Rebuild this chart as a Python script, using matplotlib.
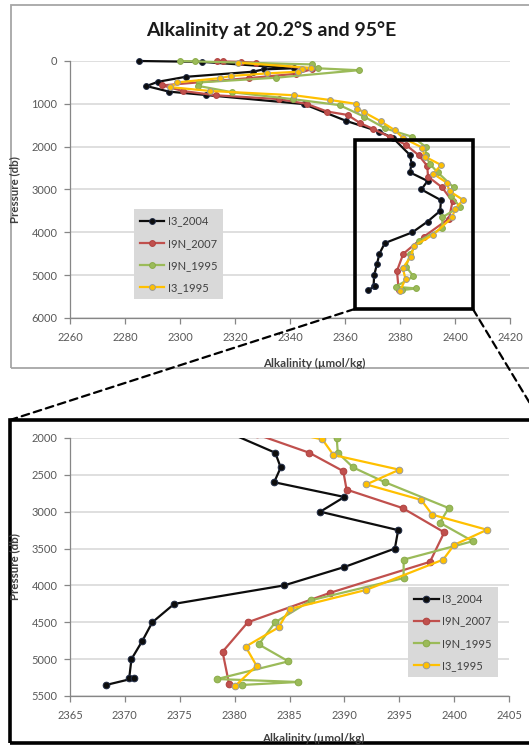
"""
Alkalinity profiles at 20.2°S, 95°E with a zoomed view of the deep layer.
"""

import matplotlib
matplotlib.use("Agg")
import matplotlib.pyplot as plt
from matplotlib.patches import Rectangle, ConnectionPatch

plt.rcParams["font.family"] = ["Lato", "DejaVu Sans"]

# --- Profiles: pressure (db) and alkalinity (umol/kg) ---
P_I3_2004 = [0, 20, 170, 195, 250, 370, 485, 585, 715, 795, 1005, 1400, 1650, 1800,
             2200, 2400, 2600, 2800, 3000, 3250, 3500, 3750, 4000, 4250, 4500, 4750,
             5000, 5250, 5260, 5350]
ALK_I3_2004 = [2285.0, 2308.0, 2341.5, 2330.5, 2326.5, 2302.0, 2292.0, 2287.8, 2296.0,
               2309.5, 2345.0, 2360.5, 2372.5, 2377.5, 2383.7, 2384.2, 2383.6, 2390.0,
               2387.8, 2394.9, 2394.6, 2390.0, 2384.5, 2374.5, 2372.5, 2371.6, 2370.6,
               2370.4, 2370.8, 2368.3]

P_I9N_2007 = [0, 10, 20, 40, 190, 300, 400, 570, 700, 800, 890, 1000, 1180, 1260, 1450,
              1580, 1780, 1950, 2200, 2450, 2700, 2950, 3280, 3680, 4100, 4500, 4900, 5340]
ALK_I9N_2007 = [2313.5, 2315.5, 2322.0, 2327.5, 2348.0, 2342.0, 2325.0, 2293.5, 2301.0,
                2313.0, 2336.0, 2346.0, 2353.5, 2361.0, 2365.5, 2370.0, 2376.5, 2382.0,
                2386.8, 2389.9, 2390.2, 2395.3, 2399.1, 2397.8, 2388.7, 2381.2, 2378.9,
                2379.5]

P_I9N_1995 = [0, 10, 80, 170, 215, 390, 500, 580, 730, 890, 1030, 1300, 1570, 1770,
              2000, 2200, 2400, 2600, 2950, 3150, 3400, 3650, 3900, 4200, 4500, 4800,
              5030, 5270, 5310, 5350]
ALK_I9N_1995 = [2300.0, 2305.5, 2348.0, 2350.0, 2365.0, 2335.0, 2307.0, 2306.5, 2319.0,
                2341.0, 2358.0, 2367.0, 2374.5, 2384.5, 2389.3, 2389.4, 2390.8, 2393.7,
                2399.5, 2398.7, 2401.7, 2395.4, 2395.4, 2387.0, 2383.7, 2382.2, 2384.9,
                2378.4, 2385.8, 2380.7]

P_I3_1995 = [40, 160, 190, 250, 290, 350, 400, 500, 610, 700, 800, 910, 1000, 1110, 1200,
             1410, 1610, 1790, 2020, 2230, 2430, 2630, 2840, 3040, 3245, 3450, 3650, 4060,
             4320, 4570, 4830, 5090, 5370]
ALK_I3_1995 = [2321.0, 2347.5, 2344.5, 2343.0, 2331.5, 2318.5, 2314.5, 2299.0, 2296.5,
               2311.0, 2341.5, 2354.5, 2364.0, 2364.5, 2367.0, 2373.0, 2378.0, 2381.0,
               2388.0, 2389.0, 2395.0, 2392.0, 2397.0, 2398.0, 2403.0, 2400.0, 2399.0,
               2392.0, 2385.0, 2384.0, 2381.0, 2382.0, 2380.0]

SERIES_NAMES = ["I3_2004", "I9N_2007", "I9N_1995", "I3_1995"]

# --- Axis ranges and ticks ---
FULL_XTICKS = list(range(2260, 2421, 20))
FULL_YTICKS = list(range(0, 6001, 1000))
ZOOM_XTICKS = list(range(2365, 2406, 5))
ZOOM_YTICKS = list(range(2000, 5501, 500))
ZOOM_BOX = (2363.5, 2406.5, 1845, 5790)   # x0, x1, y0, y1 in data units

TITLE = "Alkalinity at 20.2°S and 95°E"
XLABEL = "Alkalinity (µmol/kg)"
YLABEL = "Pressure (db)"

STYLES = [
    dict(color="#0d0d0d", mfc="#0d0d0d", mec="#1f2a44"),
    dict(color="#c0504d", mfc="#c0504d", mec="#b0413e"),
    dict(color="#9bbb59", mfc="#9bbb59", mec="#8aab48"),
    dict(color="#ffc000", mfc="#ffc000", mec="#9a9a9a"),
]

AXIS_GRAY = "#868686"
TEXT_GRAY = "#595959"


def draw_panel(ax, xticks, yticks, ms, clip, legend_anchor, xlabel_y):
    data = [(ALK_I3_2004, P_I3_2004), (ALK_I9N_2007, P_I9N_2007),
            (ALK_I9N_1995, P_I9N_1995), (ALK_I3_1995, P_I3_1995)]
    for (x, y), name, st in zip(data, SERIES_NAMES, STYLES):
        ax.plot(x, y, "-o", lw=1.6, ms=ms, mew=0.7, label=name, clip_on=clip, **st)

    ax.set_xlim(xticks[0], xticks[-1])
    ax.set_ylim(yticks[-1], yticks[0])
    ax.set_xticks(xticks)
    ax.set_yticks(yticks)
    ax.grid(axis="y", color="#d9d9d9", lw=1.2)
    ax.set_axisbelow(True)
    for side in ("top", "right"):
        ax.spines[side].set_visible(False)
    for side in ("left", "bottom"):
        ax.spines[side].set_color(AXIS_GRAY)
        ax.spines[side].set_linewidth(0.9)
    ax.tick_params(direction="out", length=4, width=0.9, color=AXIS_GRAY,
                   labelcolor=TEXT_GRAY, labelsize=8)
    ax.tick_params(axis="x", pad=6)
    ax.tick_params(axis="y", pad=5)

    ax.set_xlabel(XLABEL, fontsize=8.3, fontweight="bold", color="#404040")
    ax.set_ylabel(YLABEL, fontsize=8.3, fontweight="bold", color="#404040")
    ax.xaxis.set_label_coords(0.555, xlabel_y)
    ax.yaxis.set_label_coords(-0.113, 0.5)

    leg = ax.legend(loc="lower left", bbox_to_anchor=legend_anchor, borderaxespad=0,
                    fontsize=8, labelcolor="#404040", frameon=True, fancybox=False,
                    facecolor="#d9d9d9", edgecolor="#d9d9d9", framealpha=1,
                    handlelength=2.2, handletextpad=0.3, labelspacing=1.0,
                    borderpad=0.55)
    leg.get_frame().set_linewidth(0)
    return leg


fig = plt.figure(figsize=(5.29, 7.47), dpi=100)
W, H = 529.0, 747.0

# Outer frames of the two charts
fig.add_artist(Rectangle((11 / W, 1 - 368 / H), 530 / W, 363 / H, transform=fig.transFigure,
                         fill=False, edgecolor="#a6a6a6", lw=1.3, zorder=-1))
fig.add_artist(Rectangle((10 / W, 1 - 743 / H), 530 / W, 323 / H, transform=fig.transFigure,
                         fill=False, edgecolor="black", lw=2.6, zorder=-1))

ax_full = fig.add_axes([70 / W, 1 - 318 / H, 440 / W, 257 / H])
ax_zoom = fig.add_axes([70 / W, 1 - 696 / H, 439 / W, 258 / H])

draw_panel(ax_full, FULL_XTICKS, FULL_YTICKS, ms=4.2, clip=False,
           legend_anchor=(0.145, 0.074), xlabel_y=-0.155)
draw_panel(ax_zoom, ZOOM_XTICKS, ZOOM_YTICKS, ms=4.8, clip=True,
           legend_anchor=(0.77, 0.074), xlabel_y=-0.145)

fig.text(271 / W, 1 - 30 / H, TITLE, ha="center", va="center", fontsize=14,
         fontweight="bold", color="#1a1a1a")

# Zoom box on the full profile and callout lines to the zoomed chart
x0, x1, y0, y1 = ZOOM_BOX
ax_full.add_patch(Rectangle((x0, y0), x1 - x0, y1 - y0, fill=False, edgecolor="black",
                            lw=2.6, clip_on=False, zorder=6))
for xa, xb in ((x0, 10 / W), (x1, 540 / W)):
    con = ConnectionPatch(xyA=(xa, y1), coordsA=ax_full.transData,
                          xyB=(xb, 1 - 420 / H), coordsB="figure fraction",
                          color="black", lw=1.6, linestyle=(0, (3.5, 2.2)))
    fig.add_artist(con)

fig.savefig("out.png", dpi=100)
